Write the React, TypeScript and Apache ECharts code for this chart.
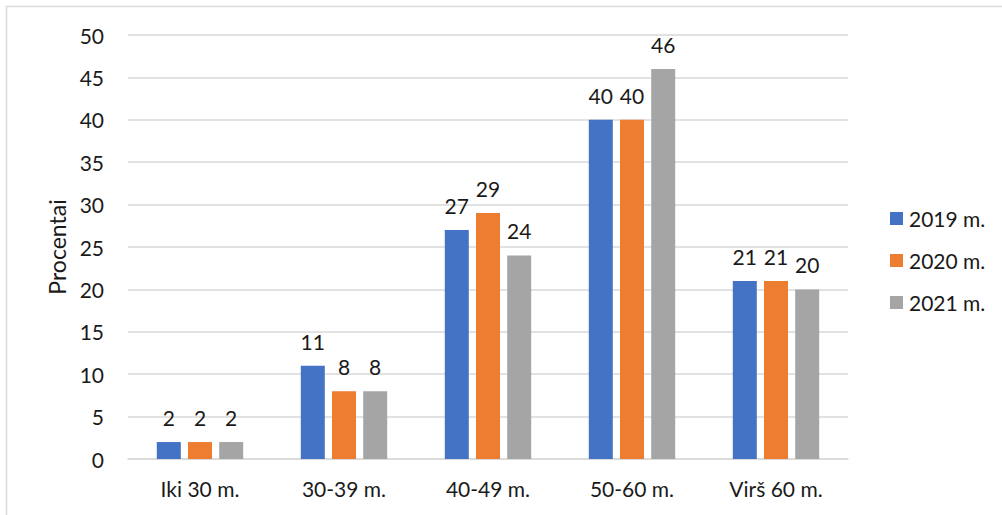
import React, { useEffect, useRef } from "react";
import * as echarts from "echarts";

const categories = ["Iki 30 m.", "30-39 m.", "40-49 m.", "50-60 m.", "Virš 60 m."];
const seriesNames = ["2019 m.", "2020 m.", "2021 m."];
const values2019 = [2, 11, 27, 40, 21];
const values2020 = [2, 8, 29, 40, 21];
const values2021 = [2, 8, 24, 46, 20];
const colors = ["#4472C4", "#ED7D31", "#A5A5A5"];
const yAxisName = "Procentai";

const FONT = "Lato, 'Open Sans', sans-serif";
const FS = 21;

export default function App() {
  const ref = useRef<HTMLDivElement>(null);
  useEffect(() => {
    if (!ref.current) return;
    const chart = echarts.init(ref.current, undefined, { renderer: "svg" });
    const data = [values2019, values2020, values2021];
    chart.setOption({
      animation: false,
      textStyle: { fontFamily: FONT },
      graphic: [
        {
          type: "rect",
          shape: { x: 6.5, y: 6.5, width: 1100, height: 600 },
          style: { fill: "none", stroke: "#d9d9d9", lineWidth: 1.5 },
          silent: true,
        },
      ],
      grid: { left: 128, right: 154, top: 35, bottom: 56, containLabel: false },
      legend: {
        orient: "vertical",
        left: 890,
        top: 208,
        padding: 0,
        itemWidth: 13,
        itemHeight: 13,
        itemGap: 21,
        icon: "rect",
        textStyle: {
          fontSize: FS,
          lineHeight: 21,
          color: "#1a1a1a",
          fontFamily: FONT,
          padding: [0, 0, 0, 1],
        },
        data: seriesNames,
      },
      xAxis: {
        type: "category",
        data: categories,
        axisLine: { lineStyle: { color: "#d9d9d9", width: 1.5 } },
        axisTick: { show: false },
        axisLabel: { fontSize: FS, color: "#1a1a1a", margin: 19, fontFamily: FONT },
      },
      yAxis: {
        type: "value",
        min: 0,
        max: 50,
        interval: 5,
        name: yAxisName,
        nameLocation: "middle",
        nameGap: 54,
        nameRotate: 90,
        nameTextStyle: { fontSize: 23, color: "#1a1a1a", fontFamily: FONT },
        axisLine: { show: false },
        axisTick: { show: false },
        splitLine: { lineStyle: { color: "#d9d9d9", width: 1.5 } },
        axisLabel: { fontSize: FS, color: "#1a1a1a", margin: 24, fontFamily: FONT },
      },
      series: seriesNames.map((name, i) => ({
        name,
        type: "bar",
        data: data[i],
        barWidth: 24,
        barGap: "30%",
        itemStyle: { color: colors[i] },
        label: {
          show: true,
          position: "top",
          distance: 14,
          fontSize: FS,
          color: "#1a1a1a",
          fontFamily: FONT,
        },
      })),
    });
    return () => chart.dispose();
  }, []);
  return (
    <div
      ref={ref}
      style={{ position: "fixed", left: 0, top: 0, width: 1002, height: 515, background: "#fff" }}
    />
  );
}
